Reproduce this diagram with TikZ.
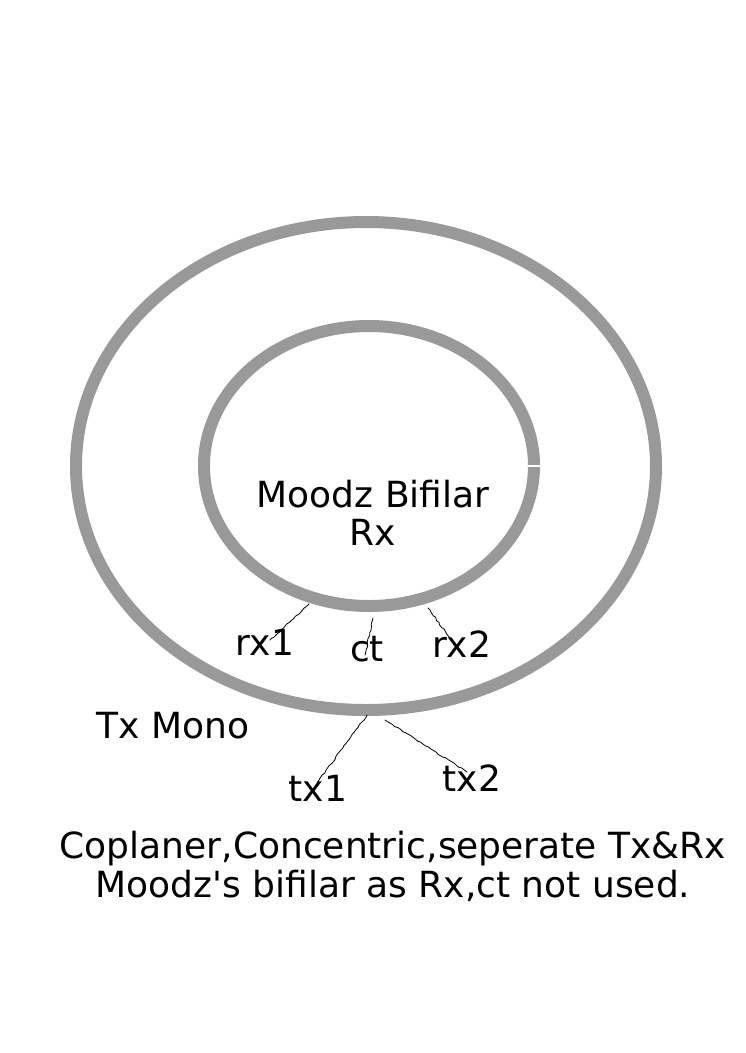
\documentclass[tikz,border=0pt]{standalone}
\usepackage{fontspec}
\setmainfont{DejaVu Sans}
\usetikzlibrary{decorations.pathmorphing}
\definecolor{coilgray}{HTML}{999999}
\begin{document}
\begin{tikzpicture}[x=1pt, y=-1pt, font=\fontsize{36}{38}\selectfont, line join=round, line cap=round]
            \tikzset{coil/.style={draw=coilgray, line width=12pt, line cap=butt},
                     lbl/.style={anchor=base, inner sep=0pt, align=center},
                     wire/.style={black, line width=0.8pt, decorate, decoration={random steps, segment length=3pt, amplitude=0.7pt}}}
            \pgfmathsetseed{7}
            \useasboundingbox[fill=white] (0,0) rectangle (745,1053);
            % coils
            \draw[coil] (366,466) ellipse [x radius=290, y radius=244];
            \draw[coil] (369,466) ellipse [x radius=165, y radius=140];
            \draw[white, line width=1.2pt] (526,466) -- (542,466);
            % labels
            \node[lbl] (rx) at (373,545) {Moodz Bifilar\\Rx};
            \node[lbl] (rxone) at (265,655) {rx1};
            \node[lbl] (ct) at (367,661) {ct};
            \node[lbl] (rxtwo) at (462,657) {rx2};
            \node[lbl] (tx) at (173,738) {Tx Mono};
            \node[lbl] (txone) at (318,801) {tx1};
            \node[lbl] (txtwo) at (472,791) {tx2};
            \node[lbl, font=\fontsize{36}{39}\selectfont] (note) at (393,897) {Coplaner,Concentric,seperate Tx\&Rx\\Moodz\textquotesingle s bifilar as Rx,ct not used.};
            % wire ends
            \foreach \n/\a/\b in {rxone/{(309,604)}/{(270,640)}, ct/{(373,618)}/{(365,655)}, rxtwo/{(428,608)}/{(450,638)}, txone/{(367,715)}/{(317,783)}, txtwo/{(385,720)}/{(467,772)}}
                \draw[wire] \a coordinate (\n-c) -- \b coordinate (\n-e);
        \end{tikzpicture}
\end{document}
